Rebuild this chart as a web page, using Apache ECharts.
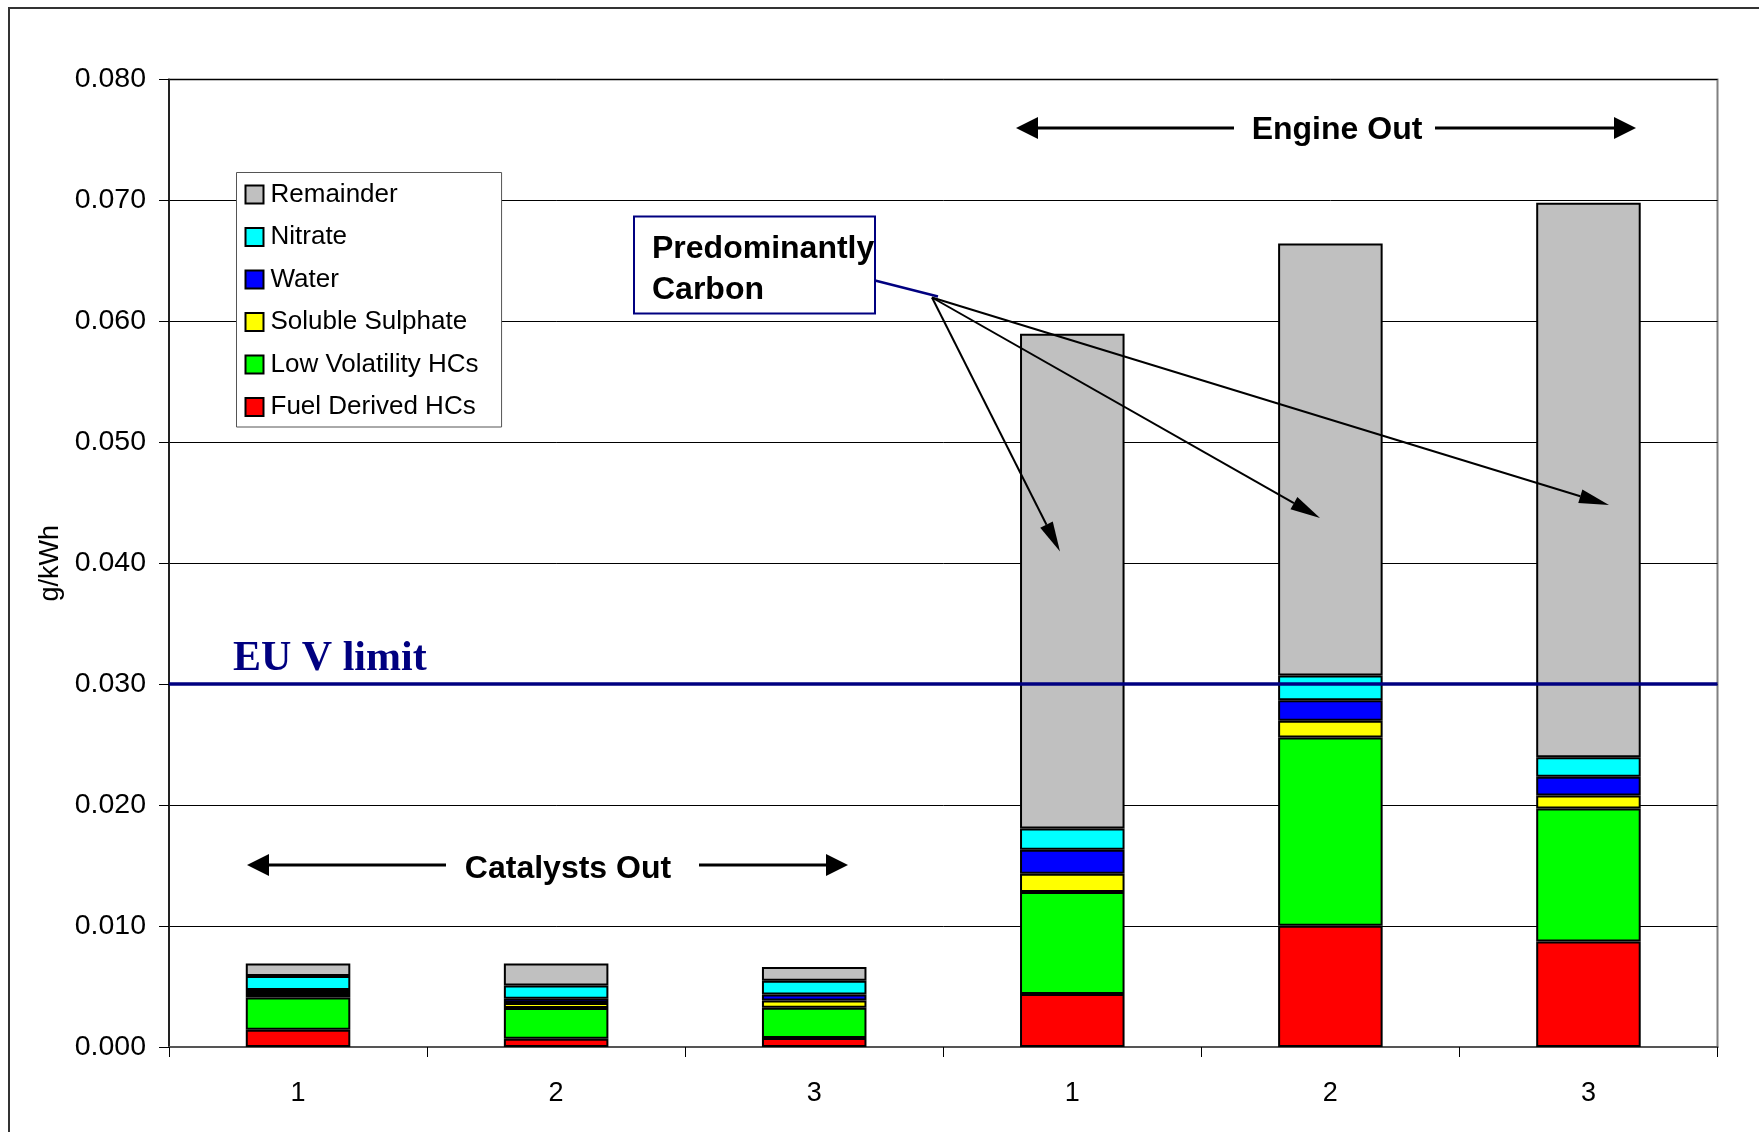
<!DOCTYPE html>
<html>
<head>
<meta charset="utf-8">
<title>Particulate composition</title>
<script src="https://cdn.jsdelivr.net/npm/echarts@6/dist/echarts.min.js"></script>
<style>
  html, body { margin: 0; padding: 0; background: #ffffff; }
  #chart { width: 1759px; height: 1132px; }
</style>
</head>
<body>
<div id="chart"></div>
<script>
// Test points: three catalysts-out runs followed by three engine-out runs
const categories = ['1', '2', '3', '1', '2', '3'];

// Particulate fractions, g/kWh (stacked bottom to top)
const fuelDerivedHCs   = [0.00143, 0.00069, 0.00074, 0.00438, 0.01002, 0.00873];
const lowVolatilityHCs = [0.00267, 0.00253, 0.00251, 0.00843, 0.01557, 0.01099];
const solubleSulphate  = [0.00028, 0.00041, 0.00060, 0.00151, 0.00138, 0.00108];
const water            = [0.00033, 0.00036, 0.00050, 0.00198, 0.00170, 0.00154];
const nitrate          = [0.00116, 0.00110, 0.00113, 0.00177, 0.00204, 0.00162];
const remainder        = [0.00104, 0.00182, 0.00113, 0.04090, 0.03573, 0.04584];

// Emission limit
const euVLimit = 0.030;

// Value axis ticks
const yMin = 0, yMax = 0.08, yStep = 0.01;

const seriesNames  = ['Fuel Derived HCs', 'Low Volatility HCs', 'Soluble Sulphate', 'Water', 'Nitrate', 'Remainder'];
const seriesData   = [fuelDerivedHCs, lowVolatilityHCs, solubleSulphate, water, nitrate, remainder];
const seriesColors = ['#FF0000', '#00FF00', '#FFFF00', '#0000FF', '#00FFFF', '#C0C0C0'];
const legendOrder  = ['Remainder', 'Nitrate', 'Water', 'Soluble Sulphate', 'Low Volatility HCs', 'Fuel Derived HCs'];

const SANS = '"Liberation Sans", Arial, sans-serif';
const SERIF = '"Liberation Serif", "Times New Roman", serif';

const chart = echarts.init(document.getElementById('chart'), null, { renderer: 'canvas' });

const series = seriesNames.map((name, i) => {
  const s = {
    name: name,
    type: 'bar',
    stack: 'total',
    barWidth: '40.5%',
    data: seriesData[i],
    itemStyle: { color: seriesColors[i], borderColor: '#000000', borderWidth: 2 },
    emphasis: { disabled: true },
    animation: false
  };
  if (i === seriesNames.length - 1) {
    s.markLine = {
      silent: true,
      symbol: 'none',
      z: 20,
      label: { show: false },
      lineStyle: { color: '#000080', width: 3.5, type: 'solid' },
      data: [{ yAxis: euVLimit }],
      animation: false
    };
  }
  return s;
});

// Arrow made of a shaft and a filled head
function arrow(x1, y1, x2, y2, headLen, headHalf, width) {
  const dx = x2 - x1, dy = y2 - y1;
  const len = Math.sqrt(dx * dx + dy * dy);
  const ux = dx / len, uy = dy / len;
  const bx = x2 - ux * headLen, by = y2 - uy * headLen;
  const px = -uy * headHalf, py = ux * headHalf;
  return [
    { type: 'line', z: 50, shape: { x1: x1, y1: y1, x2: bx, y2: by },
      style: { stroke: '#000000', lineWidth: width } },
    { type: 'polygon', z: 50, shape: { points: [[x2, y2], [bx + px, by + py], [bx - px, by - py]] },
      style: { fill: '#000000' } }
  ];
}

const graphics = [
  // outer frame
  { type: 'rect', z: 0, silent: true, shape: { x: 9, y: 8, width: 1800, height: 1200 },
    style: { fill: 'none', stroke: '#333333', lineWidth: 2 } },

  // Engine Out bracket
  { type: 'text', z: 50, style: { x: 1337, y: 130, text: 'Engine Out', font: 'bold 32px ' + SANS,
    fill: '#000000', textAlign: 'center', textVerticalAlign: 'middle' } },
  ...arrow(1234, 128, 1016, 128, 22, 11, 3),
  ...arrow(1435, 128, 1636, 128, 22, 11, 3),

  // Catalysts Out bracket
  { type: 'text', z: 50, style: { x: 568, y: 869, text: 'Catalysts Out', font: 'bold 32px ' + SANS,
    fill: '#000000', textAlign: 'center', textVerticalAlign: 'middle' } },
  ...arrow(446, 865, 247, 865, 22, 11, 3),
  ...arrow(699, 865, 848, 865, 22, 11, 3),

  // EU V limit caption
  { type: 'text', z: 50, style: { x: 233, y: 659, text: 'EU V limit', font: 'bold 42px ' + SERIF,
    fill: '#000080', textAlign: 'left', textVerticalAlign: 'middle' } },

  // Predominantly Carbon callout
  { type: 'rect', z: 50, shape: { x: 634, y: 216.5, width: 241, height: 97 },
    style: { fill: '#ffffff', stroke: '#000080', lineWidth: 2 } },
  { type: 'text', z: 51, style: { x: 652, y: 249, text: 'Predominantly', font: 'bold 32px ' + SANS,
    fill: '#000000', textAlign: 'left', textVerticalAlign: 'middle' } },
  { type: 'text', z: 51, style: { x: 652, y: 290, text: 'Carbon', font: 'bold 32px ' + SANS,
    fill: '#000000', textAlign: 'left', textVerticalAlign: 'middle' } },
  { type: 'line', z: 50, shape: { x1: 875, y1: 280.5, x2: 938, y2: 296.5 },
    style: { stroke: '#000080', lineWidth: 2.5 } },
  ...arrow(932, 297.5, 1060, 551.5, 30, 7, 2),
  ...arrow(932, 297.5, 1320, 518, 30, 7, 2),
  ...arrow(932, 297.5, 1609, 505, 30, 7, 2)
];

const option = {
  backgroundColor: '#ffffff',
  animation: false,
  grid: { left: 169, right: 41.5, top: 79.5, bottom: 85, show: true,
    borderColor: '#808080', borderWidth: 2, backgroundColor: 'transparent' },
  legend: {
    data: legendOrder,
    orient: 'vertical',
    left: 236.5,
    top: 172.5,
    padding: [7, 23, 5, 8],
    itemGap: 12.5,
    itemWidth: 18,
    itemHeight: 18,
    icon: 'rect',
    backgroundColor: '#ffffff',
    borderColor: '#555555',
    borderWidth: 1,
    itemStyle: { borderColor: '#000000', borderWidth: 2 },
    textStyle: { fontFamily: SANS, fontSize: 26, color: '#000000', lineHeight: 30, padding: [0, 0, 0, 2] },
    selectedMode: false
  },
  xAxis: {
    type: 'category',
    data: categories,
    boundaryGap: true,
    axisLine: { show: true, lineStyle: { color: '#555555', width: 2 } },
    axisTick: { show: true, alignWithLabel: false, length: 10, lineStyle: { color: '#000000', width: 1 } },
    axisLabel: { fontFamily: SANS, fontSize: 27, color: '#000000', margin: 33 },
    splitLine: { show: false }
  },
  yAxis: {
    type: 'value',
    min: yMin,
    max: yMax,
    interval: yStep,
    name: 'g/kWh',
    nameLocation: 'middle',
    nameRotate: 90,
    nameGap: 105,
    nameTextStyle: { fontFamily: SANS, fontSize: 27, color: '#000000' },
    axisLine: { show: true, lineStyle: { color: '#222222', width: 2 } },
    axisTick: { show: true, inside: false, length: 10, lineStyle: { color: '#000000', width: 1 } },
    axisLabel: { fontFamily: SANS, fontSize: 28.5, color: '#000000', margin: 23,
      formatter: v => v.toFixed(3) },
    splitLine: { show: true, lineStyle: { color: '#000000', width: 1 } }
  },
  series: series,
  graphic: graphics
};

chart.setOption(option);
</script>
</body>
</html>
